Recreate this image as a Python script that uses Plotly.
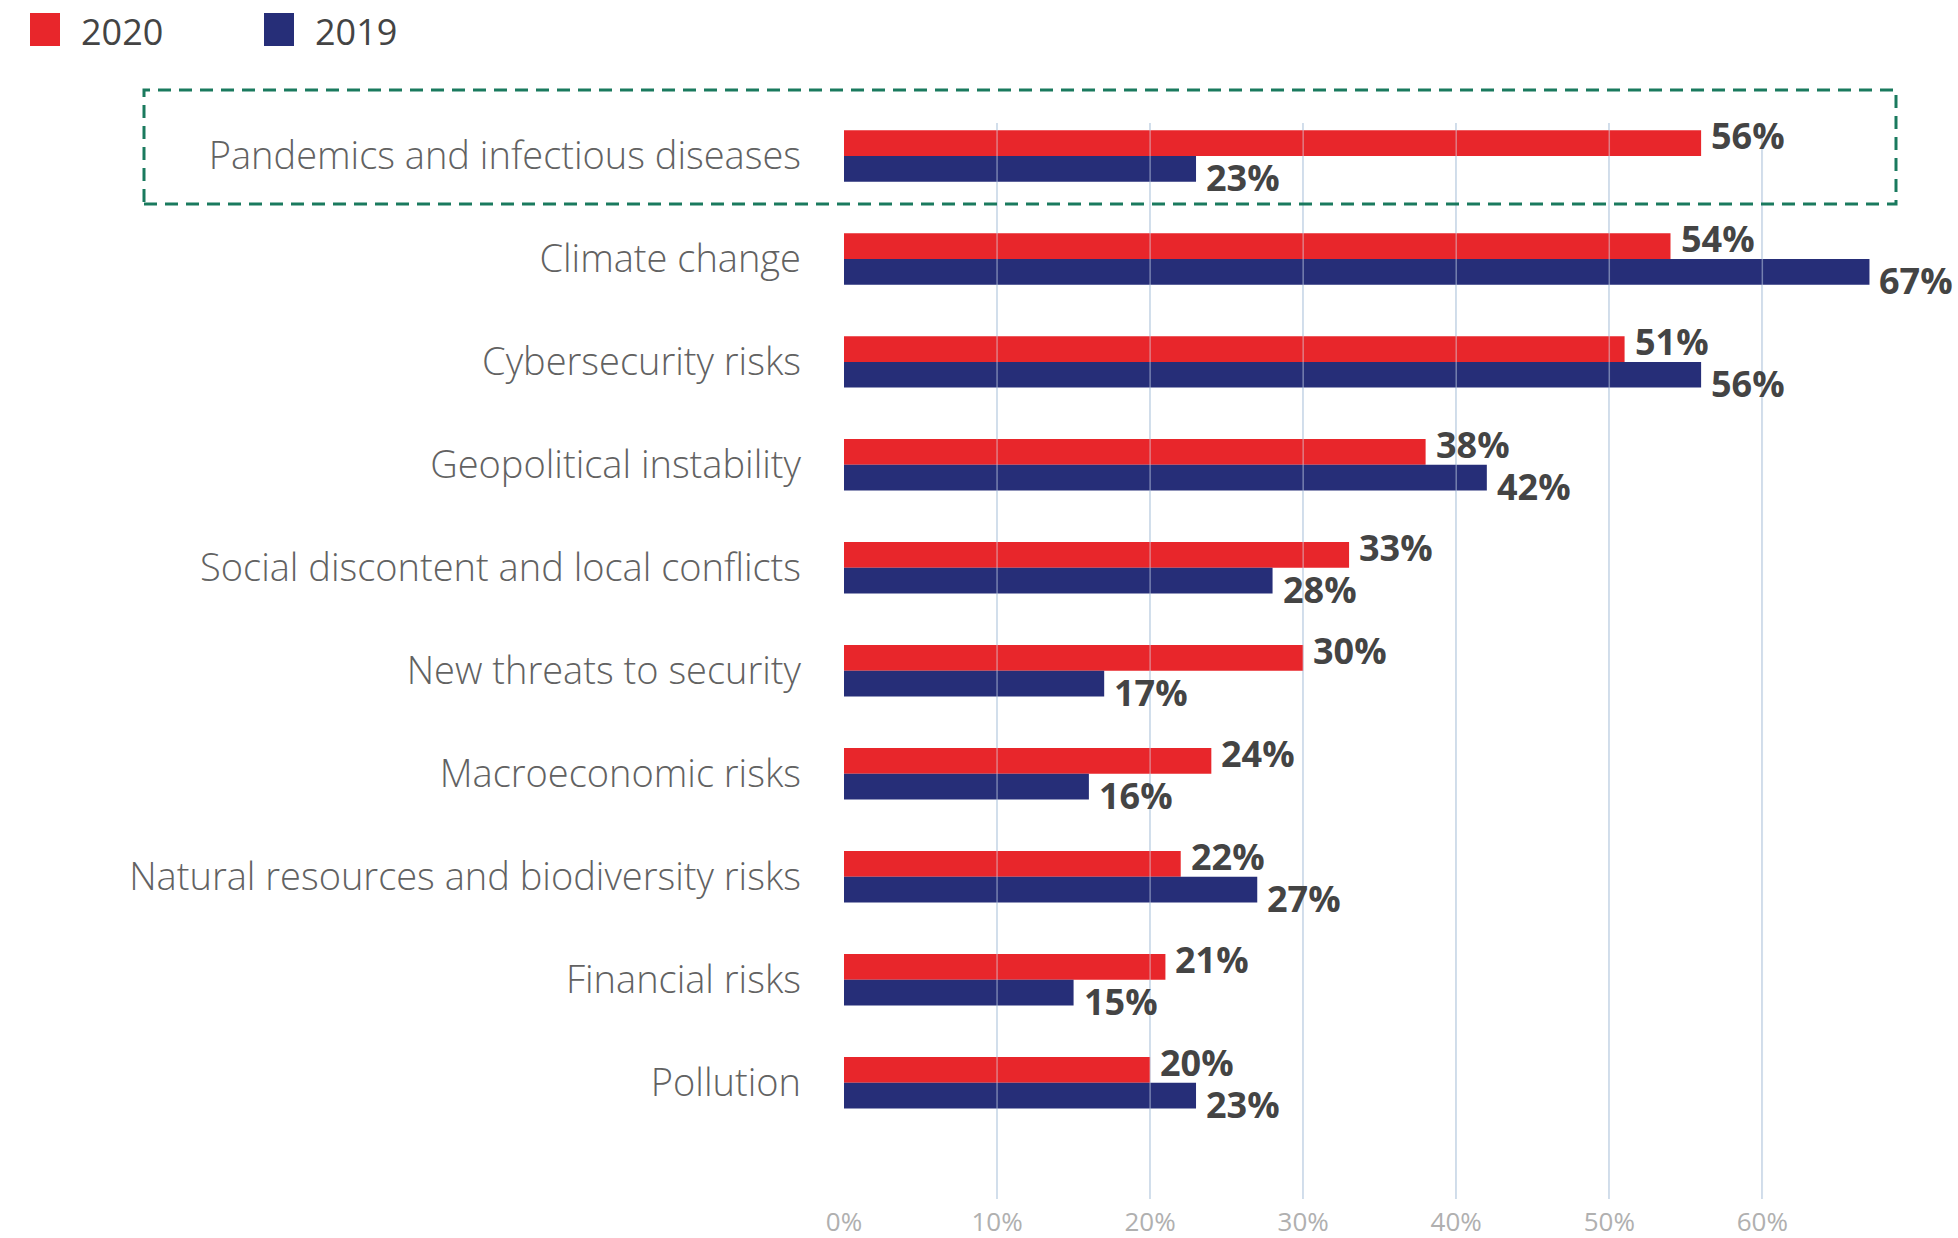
import plotly.graph_objects as go

categories = [
    "Pandemics and infectious diseases",
    "Climate change",
    "Cybersecurity risks",
    "Geopolitical instability",
    "Social discontent and local conflicts",
    "New threats to security",
    "Macroeconomic risks",
    "Natural resources and biodiversity risks",
    "Financial risks",
    "Pollution",
]
values_2020 = [56, 54, 51, 38, 33, 30, 24, 22, 21, 20]
values_2019 = [23, 67, 56, 42, 28, 17, 16, 27, 15, 23]
series_names = ["2020", "2019"]
tick_values = [0, 10, 20, 30, 40, 50, 60]
tick_labels = ["0%", "10%", "20%", "30%", "40%", "50%", "60%"]

RED = "#e8262b"
NAVY = "#262e78"
W, H = 1958, 1238
ML, MR, MT, MB = 844, 12, 123, 39
PW, PH = W - ML - MR, H - MT - MB


def px_x(px):
    return (px - ML) / PW


def px_y(py):
    return (H - MB - py) / PH


fig = go.Figure()
for name, vals, col in [(series_names[0], values_2020, RED), (series_names[1], values_2019, NAVY)]:
    fig.add_trace(go.Bar(
        name=name, y=categories, x=vals, orientation="h",
        marker=dict(color=col, line=dict(width=0)),
        showlegend=False, hoverinfo="x+y",
    ))

# faint grid lines passing over the bars
for t in tick_values[1:]:
    fig.add_shape(type="line", xref="x", yref="paper", x0=t, x1=t, y0=0, y1=1,
                  line=dict(color="rgba(215,228,242,0.45)", width=1.5), layer="above")

# value labels
label_font = dict(family="Open Sans", size=36, color="#444444", weight="bold")
for vals, dy in [(values_2020, 20), (values_2019, -22)]:
    for cat, v in zip(categories, vals):
        fig.add_annotation(x=v, y=cat, xref="x", yref="y", text=f"{v}%",
                           showarrow=False, xanchor="left", yanchor="middle",
                           xshift=8, yshift=dy, font=label_font)

# highlight box around the first category
fig.add_shape(type="rect", xref="paper", yref="paper",
              x0=px_x(144), x1=px_x(1896), y0=px_y(204), y1=px_y(90),
              line=dict(color="#1a7a5e", width=3, dash="13px,8px"),
              fillcolor="rgba(0,0,0,0)", layer="above")

# legend keys
legend_items = [(series_names[0], RED, 30, 79), (series_names[1], NAVY, 264, 313)]
for name, col, sx, tx in legend_items:
    fig.add_shape(type="rect", xref="paper", yref="paper",
                  x0=px_x(sx), x1=px_x(sx + 30), y0=px_y(46), y1=px_y(13),
                  line=dict(width=0), fillcolor=col)
    fig.add_annotation(x=px_x(tx), y=px_y(31), xref="paper", yref="paper",
                       text=name, showarrow=False, xanchor="left", yanchor="middle",
                       font=dict(family="Open Sans", size=36, color="#444444"))

fig.update_layout(
    width=W, height=H,
    margin=dict(l=ML, r=MR, t=MT, b=MB),
    paper_bgcolor="white", plot_bgcolor="white",
    barmode="group", bargap=0.5, bargroupgap=0,
    font=dict(family="Open Sans", color="#555555"),
    showlegend=False,
    xaxis=dict(range=[0, 72], tickvals=tick_values, ticktext=tick_labels,
               showgrid=True, gridcolor="#cfdbe8", gridwidth=1.5,
               zeroline=False, showline=False, ticklabelstandoff=5,
               automargin=False,
               tickfont=dict(family="Open Sans", size=26, color="#b0b0b0")),
    yaxis=dict(range=[10.13, -0.32], type="category",
               showgrid=False, zeroline=False, showline=False,
               ticklabelstandoff=42, automargin=False,
               tickfont=dict(family="Open Sans", size=38, color="#626262", weight=300)),
)

fig.write_html("out.html", post_script="document.body.style.margin='0';",
               config={"displayModeBar": False})
